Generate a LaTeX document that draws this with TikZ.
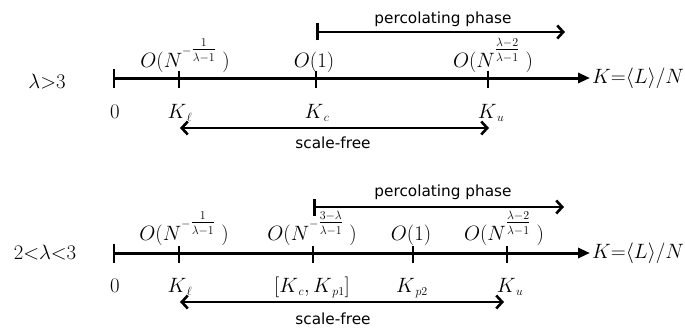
\documentclass[tikz,border=0pt]{standalone}
\usepackage{fontspec}
\usepackage{amsmath}
\setsansfont{DejaVu Sans}
\usetikzlibrary{arrows.meta, positioning}
\DeclareMathSizes{20}{20}{13}{11}
\newcommand{\upfrac}[2]{\genfrac{}{}{}{1}{#1}{#2}\vrule depth 10pt height 0pt width 0pt}
\tikzset{
	axisline/.style={line width=3pt, -{Triangle[length=12pt,width=10pt]}},
	tickline/.style={line width=2.4pt},
	rangearrow/.style={line width=2.6pt},
	mathtext/.style={font=\fontsize{20}{24}\selectfont, inner sep=0pt},
	phasetext/.style={font=\fontsize{15.3}{18}\selectfont\sffamily, inner sep=0pt}
}

\begin{document}
\begin{tikzpicture}[x=1pt, y=-1pt]
\useasboundingbox (0,0) rectangle (685,329);

% lambda > 3
\begin{scope}
	\coordinate (aA) at (114,78);
	\coordinate (aB) at (179,78);
	\coordinate (aC) at (316,78);
	\coordinate (aD) at (488,78);
	\coordinate (aE) at (590,78);

	\node[mathtext] (lamA) at (47,82) {$\lambda{>}3$};

	\draw[axisline] (aA) -- (aE);
	\draw[tickline] ([yshift=9pt]aA) -- ([yshift=-10pt]aA);
	\draw[tickline] ([yshift=7pt]aB) -- ([yshift=-10pt]aB);
	\draw[tickline] ([yshift=7pt]aC) -- ([yshift=-10pt]aC);
	\draw[tickline] ([yshift=7pt]aD) -- ([yshift=-10pt]aD);
	\node[mathtext, anchor=west] (kA) at ([xshift=2pt]aE) {$K{=}\langle L\rangle/N$};

	\node[mathtext, anchor=base] (oA1) at (185,67) {$O(N^{-\upfrac{1}{\lambda-1}}\;)$};
	\node[mathtext, anchor=base] (oA2) at (314,67) {$O(1)$};
	\node[mathtext, anchor=base] (oA3) at (493,67) {$O(N^{\upfrac{\lambda-2}{\lambda-1}}\;)$};

	\node[mathtext, anchor=base] (zA) at (115,118) {$0$};
	\node[mathtext, anchor=base] (klA) at (180,118) {$K_{\,\ell}$};
	\node[mathtext, anchor=base] (kcA) at (317,118) {$K_{\,c}$};
	\node[mathtext, anchor=base] (kuA) at (491,118) {$K_{\,u}$};

	\coordinate (pA1) at (316,32);
	\coordinate (pA2) at (565,32);
	\draw[rangearrow, {Bar[width=17pt]}-{Straight Barb[length=6pt,width=13pt]}] (pA1) -- (pA2);
	\node[phasetext] (percA) at (443,19) {percolating phase};

	\coordinate (sA1) at (180,128);
	\coordinate (sA2) at (489,128);
	\draw[rangearrow, {Straight Barb[length=6pt,width=13pt]}-{Straight Barb[length=6pt,width=13pt]}] (sA1) -- (sA2);
	\node[phasetext] (freeA) at (333,143) {scale-free};
\end{scope}

% 2 < lambda < 3
\begin{scope}
	\coordinate (bA) at (114,253);
	\coordinate (bB) at (179,253);
	\coordinate (bC) at (313,253);
	\coordinate (bD) at (413,253);
	\coordinate (bE) at (507,253);
	\coordinate (bF) at (590,253);

	\node[mathtext] (lamB) at (45,253) {$2{<}\lambda{<}3$};

	\draw[axisline] (bA) -- (bF);
	\draw[tickline] ([yshift=9pt]bA) -- ([yshift=-10pt]bA);
	\draw[tickline] ([yshift=7pt]bB) -- ([yshift=-10pt]bB);
	\draw[tickline] ([yshift=7pt]bC) -- ([yshift=-10pt]bC);
	\draw[tickline] ([yshift=7pt]bD) -- ([yshift=-10pt]bD);
	\draw[tickline] ([yshift=7pt]bE) -- ([yshift=-10pt]bE);
	\node[mathtext, anchor=west] (kB) at ([xshift=2pt]bF) {$K{=}\langle L\rangle/N$};

	\node[mathtext, anchor=base] (oB1) at (184,240) {$O(N^{-\upfrac{1}{\lambda-1}}\;)$};
	\node[mathtext, anchor=base] (oB2) at (312,240) {$O(N^{-\upfrac{3-\lambda}{\lambda-1}}\;)$};
	\node[mathtext, anchor=base] (oB3) at (411,240) {$O(1)$};
	\node[mathtext, anchor=base] (oB4) at (504,240) {$O(N^{\upfrac{\lambda-2}{\lambda-1}}\;)$};

	\node[mathtext, anchor=base] (zB) at (115,292) {$0$};
	\node[mathtext, anchor=base] (klB) at (180,292) {$K_{\,\ell}$};
	\node[mathtext, anchor=base] (kcB) at (312,292) {$[K_{\,c},K_{\,p1}]$};
	\node[mathtext, anchor=base] (kpB) at (412,292) {$K_{\,p2}$};
	\node[mathtext, anchor=base] (kuB) at (510,292) {$K_{\,u}$};

	\coordinate (pB1) at (313,207);
	\coordinate (pB2) at (564,207);
	\draw[rangearrow, {Bar[width=17pt]}-{Straight Barb[length=6pt,width=13pt]}] (pB1) -- (pB2);
	\node[phasetext] (percB) at (443,192) {percolating phase};

	\coordinate (sB1) at (180,302);
	\coordinate (sB2) at (504,302);
	\draw[rangearrow, {Straight Barb[length=6pt,width=13pt]}-{Straight Barb[length=6pt,width=13pt]}] (sB1) -- (sB2);
	\node[phasetext] (freeB) at (333,319) {scale-free};
\end{scope}

\end{tikzpicture}
\end{document}
